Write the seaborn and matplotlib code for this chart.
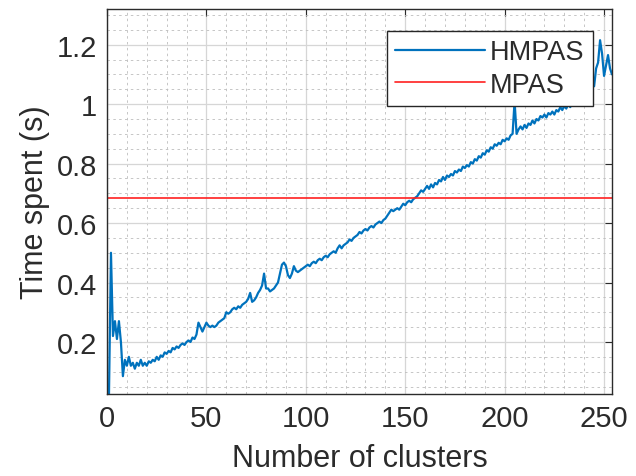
import matplotlib
matplotlib.use("Agg")
import matplotlib.pyplot as plt
import seaborn as sns
import numpy as np
import pandas as pd
from matplotlib.ticker import MultipleLocator

# ---- data ----
hmpas = [
    0.025, 0.50, 0.22, 0.27, 0.21, 0.27, 0.20, 0.085, 0.14, 0.12,
    0.15, 0.12, 0.13, 0.11, 0.13, 0.12, 0.14, 0.12, 0.13, 0.12,
    0.135, 0.13, 0.14, 0.135, 0.15, 0.14, 0.155, 0.15, 0.165, 0.16,
    0.17, 0.165, 0.18, 0.175, 0.185, 0.18, 0.19, 0.195, 0.19, 0.20,
    0.205, 0.20, 0.215, 0.21, 0.225, 0.265, 0.25, 0.235, 0.25, 0.265,
    0.255, 0.25, 0.255, 0.25, 0.255, 0.265, 0.27, 0.275, 0.28, 0.30,
    0.295, 0.30, 0.31, 0.315, 0.31, 0.32, 0.315, 0.325, 0.33, 0.335,
    0.345, 0.365, 0.335, 0.34, 0.35, 0.365, 0.375, 0.39, 0.43, 0.38,
    0.38, 0.37, 0.375, 0.38, 0.39, 0.40, 0.43, 0.46, 0.467, 0.455,
    0.425, 0.415, 0.43, 0.455, 0.44, 0.435, 0.44, 0.445, 0.45, 0.455,
    0.46, 0.455, 0.465, 0.47, 0.465, 0.475, 0.48, 0.475, 0.485, 0.49,
    0.485, 0.495, 0.50, 0.505, 0.50, 0.515, 0.525, 0.515, 0.525, 0.53,
    0.535, 0.545, 0.54, 0.55, 0.555, 0.56, 0.57, 0.565, 0.575, 0.58,
    0.575, 0.585, 0.59, 0.585, 0.595, 0.60, 0.605, 0.60, 0.61, 0.615,
    0.625, 0.635, 0.645, 0.64, 0.645, 0.65, 0.645, 0.655, 0.665, 0.66,
    0.67, 0.675, 0.67, 0.68, 0.685, 0.69, 0.70, 0.71, 0.705, 0.715,
    0.725, 0.715, 0.73, 0.72, 0.735, 0.73, 0.745, 0.74, 0.755, 0.745,
    0.76, 0.755, 0.765, 0.76, 0.775, 0.77, 0.78, 0.775, 0.79, 0.785,
    0.795, 0.79, 0.805, 0.80, 0.815, 0.81, 0.825, 0.82, 0.835, 0.83,
    0.845, 0.84, 0.855, 0.85, 0.865, 0.86, 0.87, 0.865, 0.88, 0.875,
    0.885, 0.88, 0.895, 0.90, 1.01, 0.90, 0.915, 0.925, 0.915, 0.93,
    0.92, 0.935, 0.93, 0.945, 0.935, 0.95, 0.945, 0.96, 0.955, 0.965,
    0.955, 0.97, 0.965, 0.975, 0.965, 0.98, 0.975, 0.99, 0.98, 0.995,
    0.985, 1.00, 0.99, 1.005, 1.01, 1.025, 1.03, 1.045, 1.05, 1.06,
    1.055, 1.07, 1.08, 1.10, 1.06, 1.12, 1.14, 1.215, 1.17, 1.095,
    1.13, 1.165, 1.12, 1.10,
]
clusters = list(range(1, len(hmpas) + 1))
mpas_value = 0.685

x_ticks = [0, 50, 100, 150, 200, 250]
y_ticks = [0.2, 0.4, 0.6, 0.8, 1.0, 1.2]
y_ticklabels = ["0.2", "0.4", "0.6", "0.8", "1", "1.2"]

df = pd.DataFrame({"clusters": clusters, "time": hmpas})

# ---- style ----
sns.set_style("white")
plt.rcParams["font.family"] = ["Liberation Sans", "DejaVu Sans"]

fig = plt.figure(figsize=(6.36, 4.77), dpi=100)
ax = fig.add_axes([107 / 636, 1 - 395 / 477, (612 - 107) / 636, (395 - 10) / 477])

blue = "#0072BD"
red = "#FF2020"

sns.lineplot(data=df, x="clusters", y="time", ax=ax, color=blue, linewidth=1.6,
             label="HMPAS")
ax.axhline(mpas_value, color=red, linewidth=1.2, label="MPAS")

ax.set_xlim(0, 254)
ax.set_ylim(0.025, 1.32)
ax.set_xticks(x_ticks)
ax.set_yticks(y_ticks)
ax.set_yticklabels(y_ticklabels)
ax.xaxis.set_minor_locator(MultipleLocator(10))
ax.yaxis.set_minor_locator(MultipleLocator(0.05))

ax.grid(which="major", color="#d6d6d6", linewidth=0.9, linestyle="-")
ax.grid(which="minor", color="#bdbdbd", linewidth=0.6, linestyle=(0, (3, 4)))
ax.set_axisbelow(True)

txt = "#2b2b2b"
ax.tick_params(which="major", direction="in", length=5, width=0.8, top=True,
               right=True, colors=txt, labelsize=21, pad=7)
ax.tick_params(which="minor", length=0)
for s in ax.spines.values():
    s.set_color(txt)
    s.set_linewidth(1.0)

ax.set_xlabel("Number of clusters", fontsize=22, color=txt, labelpad=8)
ax.set_ylabel("Time spent (s)", fontsize=22, color=txt, labelpad=5)

leg = ax.legend(loc="upper right", bbox_to_anchor=(0.962, 0.943),
                borderaxespad=0, fontsize=19.5, frameon=True, fancybox=False,
                framealpha=1, edgecolor="#262626", handlelength=3.3,
                handletextpad=0.2, borderpad=0.3, labelspacing=0.25)
leg.get_frame().set_linewidth(1.0)
for t in leg.get_texts():
    t.set_color(txt)

fig.savefig("out.png", dpi=100)
